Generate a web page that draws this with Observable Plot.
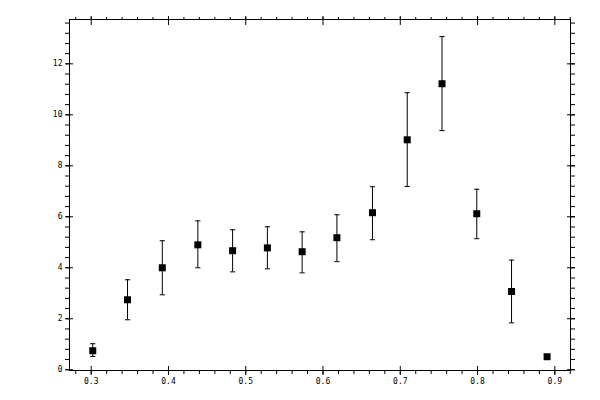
<!DOCTYPE html>
<html>
<head>
<meta charset="utf-8">
<script src="https://cdn.jsdelivr.net/npm/d3@7"></script>
<script src="https://cdn.jsdelivr.net/npm/@observablehq/plot@0.6"></script>
<style>
  html, body { margin: 0; padding: 0; background: #fff; }
  svg { display: block; }
</style>
</head>
<body>
<div id="chart"></div>
<script>
const xs   = [0.302, 0.347, 0.392, 0.438, 0.483, 0.528, 0.573, 0.618, 0.664, 0.709, 0.754, 0.799, 0.844, 0.890];
const ys   = [0.745, 2.745, 4.00, 4.90, 4.67, 4.78, 4.63, 5.18, 6.16, 9.02, 11.22, 6.12, 3.07, 0.51];
const ylo  = [0.52, 1.96, 2.94, 4.00, 3.84, 3.96, 3.80, 4.24, 5.10, 7.19, 9.38, 5.14, 1.84, null];
const yhi  = [1.02, 3.53, 5.06, 5.84, 5.49, 5.61, 5.41, 6.08, 7.18, 10.87, 13.07, 7.08, 4.30, null];

const xMajor = [0.3, 0.4, 0.5, 0.6, 0.7, 0.8, 0.9];
const xMinor = d3.range(14, 47).map(i => i / 50);      // every 0.02
const yMajor = [0, 2, 4, 6, 8, 10, 12];
const yMinor = d3.range(0, 35).map(i => i * 0.4);      // every 0.4

const data = xs.map((x, i) => ({x, y: ys[i], lo: ylo[i], hi: yhi[i]}));
const bars = data.filter(d => d.lo != null);

const cap = {
  draw(context, size) {
    const w = 2.6;
    context.moveTo(-w, 0);
    context.lineTo(w, 0);
  }
};

const fmtX = d3.format(".1f");

const chart = Plot.plot({
  width: 600,
  height: 400,
  marginLeft: 69,
  marginRight: 30,
  marginTop: 19,
  marginBottom: 30,
  style: {fontFamily: "DejaVu Sans Mono", fontSize: "8px", background: "#fff", color: "#000"},
  x: {domain: [0.2719, 0.9203]},
  y: {domain: [-0.03, 13.74]},
  marks: [
    Plot.frame({stroke: "#000", strokeWidth: 1, shapeRendering: "crispEdges"}),
    // bottom axis
    Plot.axisX({anchor: "bottom", ticks: xMajor, tickSize: 5, tickPadding: 3, tickFormat: fmtX, label: null}),
    Plot.axisX({anchor: "bottom", ticks: xMajor, tickSize: 4, dy: -4, text: null, label: null}),
    Plot.axisX({anchor: "bottom", ticks: xMinor, tickSize: 4, text: null, label: null}),
    // top axis
    Plot.axisX({anchor: "top", ticks: xMajor, tickSize: 4, text: null, label: null}),
    Plot.axisX({anchor: "top", ticks: xMajor, tickSize: 5, dy: 5, text: null, label: null}),
    Plot.axisX({anchor: "top", ticks: xMinor, tickSize: 3, text: null, label: null}),
    // left axis
    Plot.axisY({anchor: "left", ticks: yMajor, tickSize: 3, tickPadding: 4, tickFormat: d => String(d), label: null}),
    Plot.axisY({anchor: "left", ticks: yMajor, tickSize: 4, dx: 4, text: null, label: null}),
    Plot.axisY({anchor: "left", ticks: yMinor, tickSize: 4, text: null, label: null}),
    // right axis
    Plot.axisY({anchor: "right", ticks: yMajor, tickSize: 4, text: null, label: null}),
    Plot.axisY({anchor: "right", ticks: yMajor, tickSize: 4, dx: -4, text: null, label: null}),
    Plot.axisY({anchor: "right", ticks: yMinor, tickSize: 4, text: null, label: null}),
    // error bars
    Plot.ruleX(bars, {x: "x", y1: "lo", y2: "hi", stroke: "#000", strokeWidth: 1}),
    Plot.dot(bars, {x: "x", y: "lo", symbol: cap, r: 3, stroke: "#000", strokeWidth: 1, fill: "none"}),
    Plot.dot(bars, {x: "x", y: "hi", symbol: cap, r: 3, stroke: "#000", strokeWidth: 1, fill: "none"}),
    // markers
    Plot.dot(data, {x: "x", y: "y", symbol: "square", r: 3.95, fill: "#000", stroke: "none"})
  ]
});

document.getElementById("chart").appendChild(chart);
</script>
</body>
</html>
